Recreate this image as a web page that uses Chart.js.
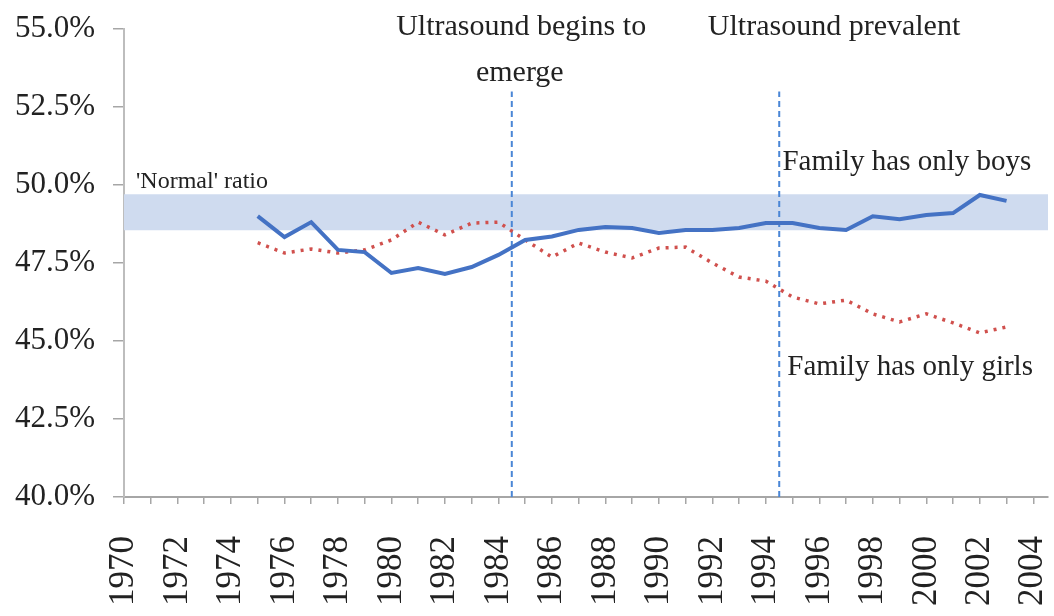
<!DOCTYPE html>
<html>
<head>
<meta charset="utf-8">
<script src="https://cdn.jsdelivr.net/npm/chart.js@4.4.0/dist/chart.umd.min.js"></script>
<style>
  body { margin: 0; background: #fff; }
  #wrap { width: 1054px; height: 616px; position: relative; }
</style>
</head>
<body>
<div id="wrap"><canvas id="mainChart"></canvas></div>
<script>
// Data
const years = [1975, 1976, 1977, 1978, 1979, 1980, 1981, 1982, 1983, 1984, 1985, 1986, 1987, 1988, 1989,
               1990, 1991, 1992, 1993, 1994, 1995, 1996, 1997, 1998, 1999, 2000, 2001, 2002, 2003];
const onlyBoys = [49.0, 48.33, 48.81, 47.92, 47.85, 47.18, 47.34, 47.15, 47.37, 47.76, 48.24, 48.35, 48.56, 48.65, 48.62,
                  48.46, 48.56, 48.56, 48.62, 48.78, 48.78, 48.62, 48.56, 49.0, 48.9, 49.04, 49.1, 49.68, 49.49];
const onlyGirls = [48.15, 47.82, 47.95, 47.82, 47.92, 48.24, 48.81, 48.4, 48.78, 48.81, 48.24, 47.69, 48.14, 47.85, 47.66,
                   47.98, 48.01, 47.5, 47.05, 46.92, 46.41, 46.19, 46.31, 45.87, 45.61, 45.87, 45.58, 45.26, 45.45];
const normalBand = [48.55, 49.7];       // 'Normal' ratio range
const markerYears = [1984.5, 1994.5];   // ultrasound milestones
const markerTop = 53.0;
const xTicks = [];
for (let y = 1970; y <= 2004; y++) xTicks.push(y);
const yTicks = [40, 42.5, 45, 47.5, 50, 52.5, 55];

const serif = '"Liberation Serif", "Times New Roman", serif';
const textColor = '#222';

const toPoints = (xs, ys) => xs.map((x, i) => ({ x: x, y: ys[i] }));

// Text annotations, placed in data units
const notes = [
    { text: 'Ultrasound begins to', x: 1984.85, y: 55.05, align: 'center', size: 30 },
    { text: 'emerge', x: 1984.8, y: 53.6, align: 'center', size: 30 },
    { text: 'Ultrasound prevalent', x: 1996.55, y: 55.05, align: 'center', size: 30 },
    { text: 'Family has only boys', x: 1994.62, y: 50.72, align: 'left', size: 29 },
    { text: 'Family has only girls', x: 1994.8, y: 44.17, align: 'left', size: 29 },
    { text: "'Normal' ratio", x: 1970.45, y: 50.12, align: 'left', size: 24 }
];

const notesPlugin = {
    id: 'notes',
    afterDraw(chart) {
        const { ctx, scales } = chart;
        ctx.save();
        ctx.fillStyle = textColor;
        ctx.textBaseline = 'middle';
        notes.forEach(n => {
            ctx.font = n.size + 'px ' + serif;
            ctx.textAlign = n.align;
            ctx.fillText(n.text, scales.x.getPixelForValue(n.x), scales.y.getPixelForValue(n.y));
        });
        ctx.restore();
    }
};

const ctx = document.getElementById('mainChart').getContext('2d');

new Chart(ctx, {
    type: 'line',
    data: {
        datasets: [
            {
                label: 'Family has only boys',
                data: toPoints(years, onlyBoys),
                borderColor: '#4472c4',
                borderWidth: 4,
                pointRadius: 0,
                tension: 0
            },
            {
                label: 'Family has only girls',
                data: toPoints(years, onlyGirls),
                borderColor: '#d0504d',
                borderWidth: 3.5,
                borderDash: [3, 6],
                pointRadius: 0,
                tension: 0
            },
            {
                label: 'Ultrasound begins',
                data: [{ x: markerYears[0], y: 40 }, { x: markerYears[0], y: markerTop }],
                borderColor: '#4a86d6',
                borderWidth: 2,
                borderDash: [6, 4],
                pointRadius: 0
            },
            {
                label: 'Ultrasound prevalent',
                data: [{ x: markerYears[1], y: 40 }, { x: markerYears[1], y: markerTop }],
                borderColor: '#4a86d6',
                borderWidth: 2,
                borderDash: [6, 4],
                pointRadius: 0
            },
            {
                label: 'Normal ratio',
                data: [{ x: 1970, y: normalBand[1] }, { x: 2004.55, y: normalBand[1] }],
                borderWidth: 0,
                borderColor: 'transparent',
                backgroundColor: '#cfdbef',
                fill: { value: normalBand[0] },
                pointRadius: 0
            }
        ]
    },
    options: {
        responsive: true,
        maintainAspectRatio: false,
        animation: false,
        layout: { padding: { top: 29, right: 6, left: 0, bottom: 0 } },
        plugins: {
            legend: { display: false },
            tooltip: { enabled: false }
        },
        scales: {
            x: {
                type: 'linear',
                min: 1970,
                max: 2004.55,
                afterBuildTicks: s => { s.ticks = xTicks.map(v => ({ value: v })); },
                afterFit: s => {
                    s.height = 119;
                    s.paddingLeft = 0;
                    s.paddingRight = 0;
                },
                ticks: {
                    autoSkip: false,
                    minRotation: 90,
                    maxRotation: 90,
                    padding: 32,
                    color: textColor,
                    font: { family: serif, size: 35 },
                    callback: v => (v % 2 === 0 ? String(v) : '')
                },
                grid: { drawOnChartArea: false, drawTicks: true, tickLength: 7, color: '#a6a6a6', lineWidth: 1.5 },
                border: { color: '#a6a6a6', width: 2 }
            },
            y: {
                min: 40,
                max: 55,
                afterBuildTicks: s => { s.ticks = yTicks.map(v => ({ value: v })); },
                afterFit: s => {
                    s.width = 124;
                    s.paddingTop = 0;
                    s.paddingBottom = 0;
                },
                ticks: {
                    padding: 18,
                    color: textColor,
                    font: { family: serif, size: 31 },
                    callback: v => v.toFixed(1) + '%'
                },
                grid: { drawOnChartArea: false, drawTicks: true, tickLength: 11, color: '#a6a6a6', lineWidth: 1.5 },
                border: { color: '#bdbdbd', width: 2 }
            }
        }
    },
    plugins: [notesPlugin]
});
</script>
</body>
</html>
